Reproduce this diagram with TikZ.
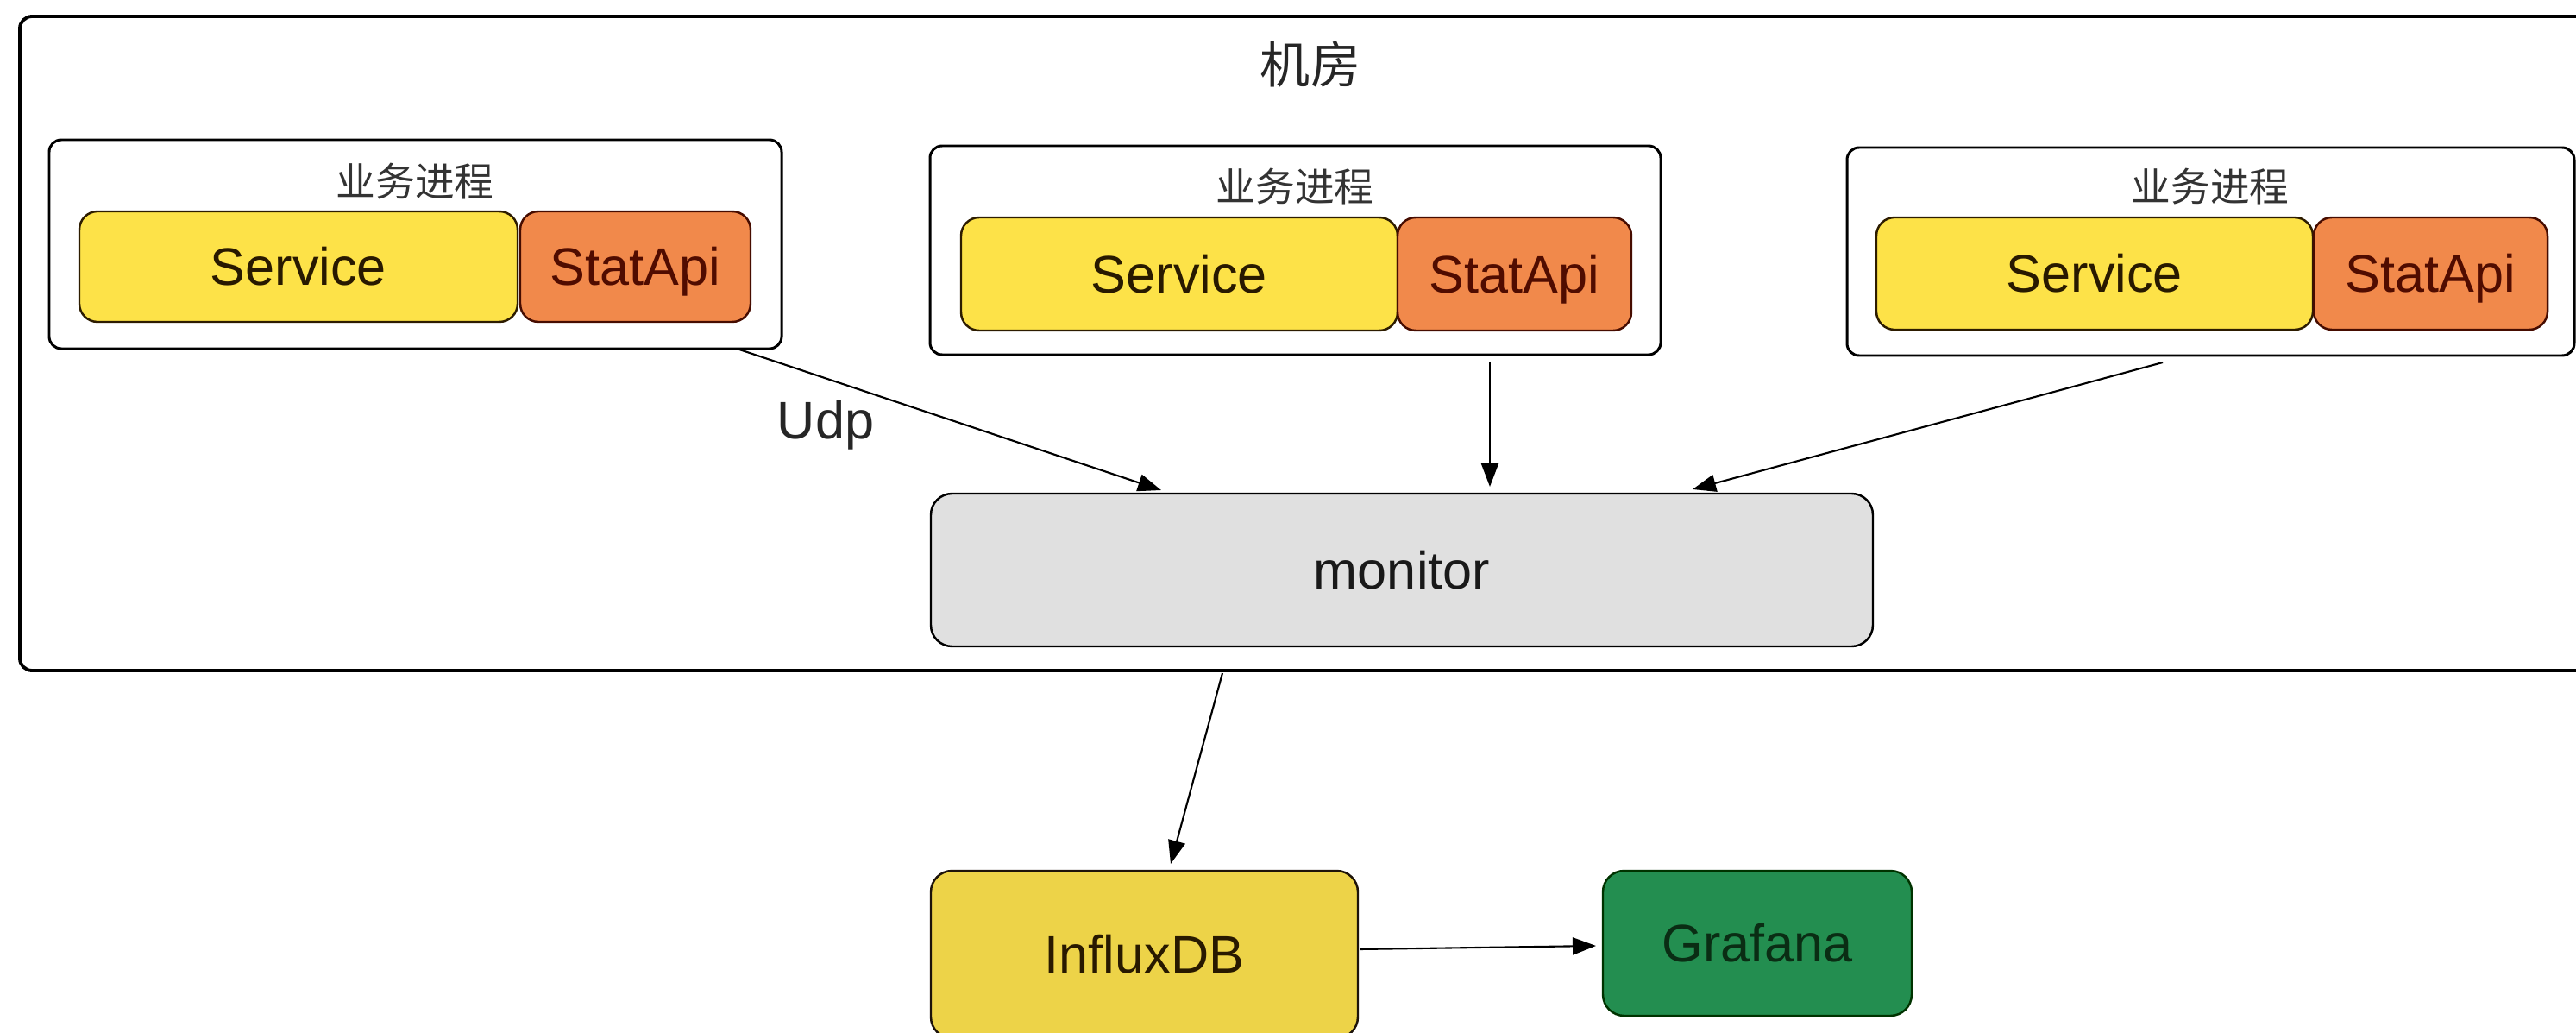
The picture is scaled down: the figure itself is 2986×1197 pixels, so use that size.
\documentclass[tikz,border=0pt]{standalone}
\usepackage{fontspec}
\setmainfont{Liberation Sans}
\newfontfamily\cjk{Noto Sans CJK SC}
\usetikzlibrary{arrows.meta}
\definecolor{svcfill}{RGB}{253,226,72}
\definecolor{svcline}{RGB}{45,28,0}
\definecolor{svctext}{RGB}{40,25,0}
\definecolor{statfill}{RGB}{241,137,75}
\definecolor{statline}{RGB}{70,12,0}
\definecolor{stattext}{RGB}{80,12,0}
\definecolor{monfill}{RGB}{224,224,224}
\definecolor{influxfill}{RGB}{237,211,72}
\definecolor{graffill}{RGB}{35,142,80}
\definecolor{graftext}{RGB}{10,45,20}
\tikzset{
  latin/.style={font=\fontsize{17.4pt}{20pt}\selectfont, text height=12.5pt, text depth=0pt, inner sep=0pt},
  procbox/.style={draw=black, line width=0.85pt, rounded corners=4pt, fill=white, inner sep=0pt},
  svcbox/.style={latin, draw=svcline, fill=svcfill, text=svctext, line width=0.7pt, rounded corners=6pt},
  statbox/.style={latin, draw=statline, fill=statfill, text=stattext, line width=0.7pt, rounded corners=6pt},
  monbox/.style={latin, draw=black, fill=monfill, text=black!90, line width=0.7pt, rounded corners=7pt},
  influxbox/.style={latin, draw=black!85!brown, fill=influxfill, text=svctext, line width=0.7pt, rounded corners=7pt},
  grafbox/.style={latin, draw=black!80!green, fill=graffill, text=graftext, line width=0.7pt, rounded corners=7pt},
  sublabel/.style={font=\cjk\fontsize{13pt}{15pt}\selectfont, text=black!80, inner sep=0pt},
  conn/.style={draw=black, line width=0.6pt, -{Triangle[length=0.27cm, width=0.2cm]}},
}
\begin{document}
\begin{tikzpicture}[x=0.01cm, y=-0.01cm]
\useasboundingbox (0,0) rectangle (2986,1197);
\clip (0,0) rectangle (2986,1197);
% outer room frame (continues past the right edge)
\draw[line width=1.1pt, rounded corners=4pt] (2986,19) -- (23,19) -- (23,777) -- (2986,777);
\node[font=\cjk\fontsize{16.5pt}{19pt}\selectfont, text=black!85, inner sep=0pt] (title) at (1519,74) {机房};

% process boxes
\node[procbox, minimum width=849*0.01cm, minimum height=242*0.01cm] (p1) at (481.5,283) {};
\node[procbox, minimum width=847*0.01cm, minimum height=242*0.01cm] (p2) at (1501.5,290) {};
\node[procbox, minimum width=843*0.01cm, minimum height=241*0.01cm] (p3) at (2562.5,291.5) {};
\node[sublabel] (l1) at (481,210) {业务进程};
\node[sublabel] (l2) at (1501,216) {业务进程};
\node[sublabel] (l3) at (2562,216) {业务进程};

\node[svcbox, minimum width=508*0.01cm, minimum height=128*0.01cm] (s1) at (346,309) {Service};
\node[statbox, minimum width=267*0.01cm, minimum height=128*0.01cm] (a1) at (736.5,309) {StatApi};
\node[svcbox, minimum width=506*0.01cm, minimum height=131*0.01cm] (s2) at (1367,317.5) {Service};
\node[statbox, minimum width=271*0.01cm, minimum height=131*0.01cm] (a2) at (1755.5,317.5) {StatApi};
\node[svcbox, minimum width=506*0.01cm, minimum height=130*0.01cm] (s3) at (2428,317) {Service};
\node[statbox, minimum width=271*0.01cm, minimum height=130*0.01cm] (a3) at (2817.5,317) {StatApi};

% monitor and storage
\node[monbox, minimum width=1092*0.01cm, minimum height=177*0.01cm] (mon) at (1625,660.5) {monitor};
\node[influxbox, minimum width=495*0.01cm, minimum height=194*0.01cm] (influx) at (1326.5,1106) {InfluxDB};
\node[grafbox, minimum width=358*0.01cm, minimum height=168*0.01cm] (graf) at (2037,1093) {Grafana};

% connector end points
\coordinate (c1s) at (857,405);
\coordinate (c1e) at (1346,568);
\coordinate (c2s) at (1727,419);
\coordinate (c2e) at (1727,564);
\coordinate (c3s) at (2507,420);
\coordinate (c3e) at (1962,567);
\coordinate (c4s) at (1417,780);
\coordinate (c4e) at (1357,1001);
\coordinate (c5s) at (1576,1100);
\coordinate (c5e) at (1850,1096);

\draw[conn] (c1s) -- (c1e);
\draw[conn] (c2s) -- (c2e);
\draw[conn] (c3s) -- (c3e);
\draw[conn] (c4s) -- (c4e);
\draw[conn] (c5s) -- (c5e);
\node[latin, text=black!85] (udp) at (957,487) {Udp};
\end{tikzpicture}
\end{document}
